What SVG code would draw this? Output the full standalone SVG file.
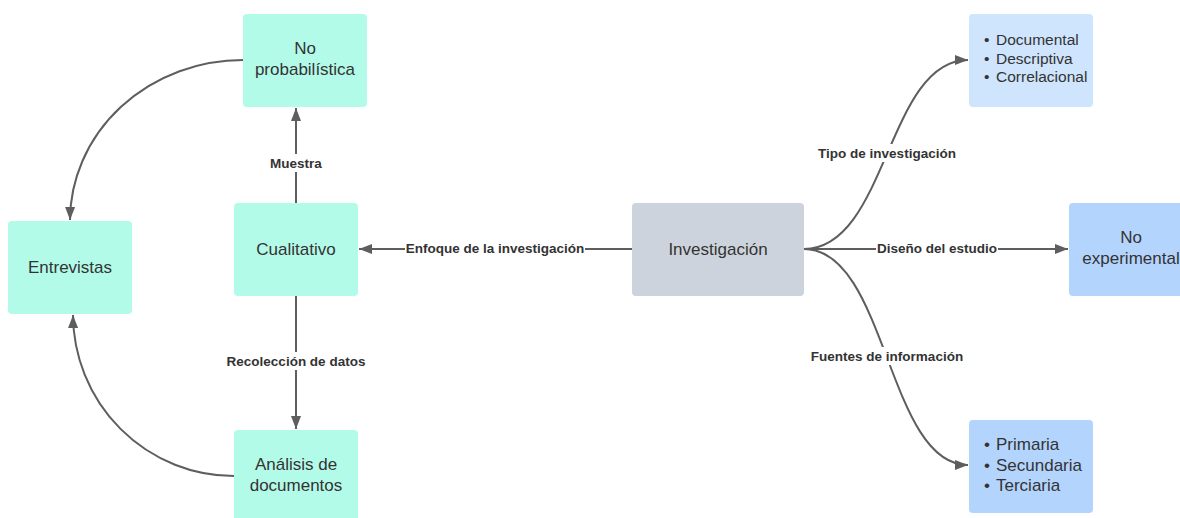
<svg xmlns="http://www.w3.org/2000/svg" width="1180" height="518" viewBox="0 0 1180 518">
<defs>
<marker id="ah" markerUnits="userSpaceOnUse" markerWidth="14" markerHeight="12" refX="13" refY="6" orient="auto">
<path d="M0,1 L13,6 L0,11 Z" fill="#5e5e5e"/>
</marker>
<style>
.teal{fill:#b3fbe9}
.gray{fill:#cdd3dc}
.lb{fill:#cfe4fd}
.bl{fill:#b3d4fd}
.nt{font-family:"Liberation Sans",Arial,sans-serif;font-size:17px;fill:#333;text-anchor:middle}
.lt{font-family:"Liberation Sans",Arial,sans-serif;fill:#333}
.el{font-family:"Liberation Sans",Arial,sans-serif;font-size:13.5px;font-weight:bold;fill:#333;text-anchor:middle}
.cn{fill:none;stroke:#5e5e5e;stroke-width:2;marker-end:url(#ah)}
.bg{fill:#fff}
</style>
</defs>
<rect width="1180" height="518" fill="#fff"/>
<g id="connectors">
<path class="cn" d="M296,203 L296,108"/>
<path class="cn" d="M296,296 L296,429"/>
<path class="cn" d="M632,249 L359,249"/>
<path class="cn" d="M243,60 A173,161 0 0 0 70,220"/>
<path class="cn" d="M234,476 A161,162 0 0 1 73,315"/>
<path class="cn" d="M804,249 C887,249 887,60 968,60"/>
<path class="cn" d="M804,249 L1068,249"/>
<path class="cn" d="M804,249 C887,249 887,465 968,465"/>
<rect class="bg" x="268" y="154" width="56" height="18"/>
<text class="el" x="296" y="168">Muestra</text>
<rect class="bg" x="224" y="352" width="144" height="18"/>
<text class="el" x="296" y="366">Recolección de datos</text>
<rect class="bg" x="405" y="240" width="180" height="15"/>
<text class="el" x="495" y="253">Enfoque de la investigación</text>
<rect class="bg" x="815" y="144" width="144" height="18"/>
<text class="el" x="887" y="158">Tipo de investigación</text>
<rect class="bg" x="876" y="240" width="122" height="15"/>
<text class="el" x="937" y="253">Diseño del estudio</text>
<rect class="bg" x="808" y="347" width="158" height="18"/>
<text class="el" x="887" y="361">Fuentes de información</text>
</g>
<g id="no-probabilistica">
<rect class="teal" x="243" y="14" width="124" height="93" rx="4"/>
<text class="nt" x="305" y="54">No</text>
<text class="nt" x="305" y="75">probabilística</text>
</g>
<g id="entrevistas">
<rect class="teal" x="8" y="221" width="124" height="93" rx="4"/>
<text class="nt" x="70" y="273">Entrevistas</text>
</g>
<g id="cualitativo">
<rect class="teal" x="234" y="203" width="124" height="93" rx="4"/>
<text class="nt" x="296" y="255">Cualitativo</text>
</g>
<g id="analisis">
<rect class="teal" x="234" y="430" width="124" height="93" rx="4"/>
<text class="nt" x="296" y="470">Análisis de</text>
<text class="nt" x="296" y="491">documentos</text>
</g>
<g id="investigacion">
<rect class="gray" x="632" y="203" width="172" height="93" rx="4"/>
<text class="nt" x="718" y="255">Investigación</text>
</g>
<g id="tipo">
<rect class="lb" x="969" y="14" width="124" height="93" rx="4"/>
<text class="lt" font-size="15.5">
<tspan x="984" y="45">•</tspan><tspan x="996" y="45">Documental</tspan>
<tspan x="984" y="63.5">•</tspan><tspan x="996" y="63.5">Descriptiva</tspan>
<tspan x="984" y="82">•</tspan><tspan x="996" y="82">Correlacional</tspan>
</text>
</g>
<g id="no-experimental">
<rect class="bl" x="1069" y="203" width="124" height="93" rx="4"/>
<text class="nt" x="1131" y="243">No</text>
<text class="nt" x="1131" y="264">experimental</text>
</g>
<g id="fuentes">
<rect class="bl" x="969" y="420" width="124" height="93" rx="4"/>
<text class="lt" font-size="17">
<tspan x="984" y="450">•</tspan><tspan x="996" y="450">Primaria</tspan>
<tspan x="984" y="470.5">•</tspan><tspan x="996" y="470.5">Secundaria</tspan>
<tspan x="984" y="491">•</tspan><tspan x="996" y="491">Terciaria</tspan>
</text>
</g>
</svg>
